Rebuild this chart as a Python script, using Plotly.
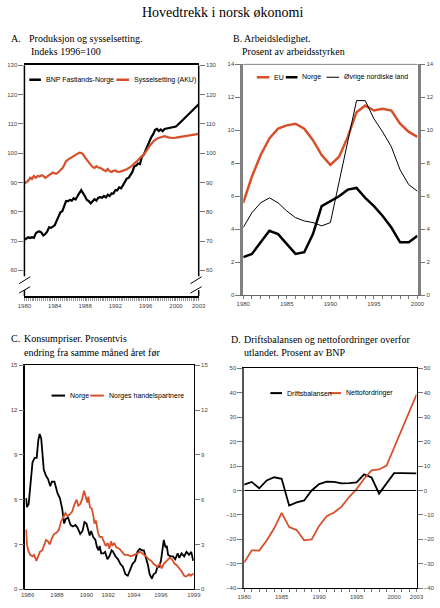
import plotly.graph_objects as go

# Panel A: Produksjon og sysselsetting (indeks 1996=100)
bnp_year = [1980.0, 1980.25, 1980.5, 1980.75, 1981.0, 1981.25, 1981.5, 1981.75, 1982.0, 1982.25,
            1982.5, 1982.75, 1983.0, 1983.25, 1983.5, 1983.75, 1984.0, 1984.25, 1984.5, 1984.75,
            1985.0, 1985.25, 1985.5, 1985.75, 1986.0, 1986.25, 1986.5, 1986.75, 1987.0, 1987.25,
            1987.5, 1987.75, 1988.0, 1988.25, 1988.5, 1988.75, 1989.0, 1989.25, 1989.5, 1989.75,
            1990.0, 1990.25, 1990.5, 1990.75, 1991.0, 1991.25, 1991.5, 1991.75, 1992.0, 1992.25,
            1992.5, 1992.75, 1993.0, 1993.25, 1993.5, 1993.75, 1994.0, 1994.25, 1994.5, 1994.75,
            1995.0, 1995.25, 1995.5, 1995.75, 1996.0, 1996.25, 1996.5, 1996.75, 1997.0, 1997.25,
            1997.5, 1997.75, 1998.0, 1998.25, 1998.5, 1998.75, 1999.0, 1999.5, 2000.0, 2001.0,
            2002.0, 2003.0]
bnp = [70.4, 70.9, 71.3, 71.0, 71.3, 71.1, 72.6, 73.2, 73.3, 72.9,
       71.9, 72.4, 73.2, 74.7, 74.5, 74.9, 75.4, 76.9, 78.5, 79.8,
       80.2, 82.0, 83.7, 83.6, 84.0, 83.8, 84.6, 84.2, 85.5, 86.4,
       87.4, 86.5, 85.2, 84.0, 83.6, 82.9, 83.8, 84.3, 83.8, 84.8,
       85.0, 84.8, 85.4, 84.9, 85.8, 85.4, 86.3, 86.2, 87.4, 87.3,
       88.3, 88.0, 89.0, 90.2, 91.3, 91.6, 92.6, 93.6, 95.5, 95.8,
       96.5, 96.3, 98.8, 99.5, 101.0, 102.6, 104.0, 105.5, 106.5, 108.0,
       108.3, 107.6, 108.1, 107.5, 108.3, 108.4, 108.7, 108.9, 109.1, 111.6,
       114.1, 116.7]

aku_year = [1980.0, 1980.5, 1980.75, 1981.0, 1981.25, 1981.5, 1981.75, 1982.0, 1982.25, 1982.5,
            1982.75, 1983.0, 1983.25, 1983.5, 1983.75, 1984.0, 1984.25, 1984.5, 1984.75, 1985.0,
            1985.25, 1985.5, 1985.75, 1986.0, 1986.25, 1986.5, 1986.75, 1987.0, 1987.25, 1987.5,
            1987.75, 1988.0, 1988.25, 1988.5, 1988.75, 1989.0, 1989.25, 1989.5, 1989.75, 1990.0,
            1990.25, 1990.5, 1990.75, 1991.0, 1991.25, 1991.5, 1991.75, 1992.0, 1992.25, 1992.5,
            1992.75, 1993.0, 1993.5, 1994.0, 1994.5, 1995.0, 1995.5, 1996.0, 1996.5, 1997.0,
            1997.5, 1998.0, 1998.5, 1999.0, 1999.5, 2000.0, 2001.0, 2002.0, 2003.0]
aku = [89.6, 90.6, 91.6, 91.2, 92.2, 91.6, 92.2, 92.0, 92.5, 92.2,
       91.6, 92.0, 92.4, 92.9, 93.4, 93.1, 93.0, 93.6, 94.3, 94.8,
       96.0, 97.3, 97.8, 98.2, 98.6, 99.2, 99.7, 100.1, 100.2, 100.1,
       99.6, 98.6, 97.6, 97.0, 96.0, 95.3, 95.0, 95.6, 95.1, 95.0,
       94.5, 94.2, 93.9, 94.6, 93.8, 93.6, 94.0, 94.1, 93.7, 93.6,
       93.8, 94.0, 94.5, 95.3, 96.4, 97.7, 99.0, 100.4, 102.4, 104.0,
       105.0, 105.5, 105.8, 105.4, 105.2, 105.3, 105.8, 106.2, 106.6]

# Panel B: Arbeidsledighet (prosent av arbeidsstyrken)
ledig_year = list(range(1980, 2001))
eu = [5.6, 7.2, 8.5, 9.5, 10.1, 10.3, 10.4, 10.1, 9.4, 8.5, 7.9,
      8.4, 9.6, 11.1, 11.5, 11.2, 11.3, 11.2, 10.4, 9.9, 9.6]
norge_ledig = [2.3, 2.5, 3.2, 3.9, 3.7, 3.1, 2.5, 2.6, 3.7, 5.4, 5.7,
               6.0, 6.4, 6.5, 5.9, 5.4, 4.8, 4.1, 3.2, 3.2, 3.6]
nordisk = [4.1, 5.0, 5.6, 5.9, 5.6, 5.1, 4.7, 4.5, 4.4, 4.2, 4.4,
           6.9, 9.4, 11.8, 11.8, 10.7, 9.9, 9.0, 7.6, 6.7, 6.3]

# Panel C: Konsumpriser, endring fra samme måned året før
kpi_no_year = [1986.05, 1986.12, 1986.25, 1986.37, 1986.55, 1986.72, 1986.87, 1987.0, 1987.1, 1987.22,
               1987.34, 1987.42, 1987.59, 1987.74, 1987.92, 1988.04, 1988.24, 1988.37, 1988.49, 1988.66,
               1988.84, 1988.99, 1989.11, 1989.29, 1989.49, 1989.66, 1989.86, 1990.03, 1990.23, 1990.41,
               1990.56, 1990.71, 1990.83, 1990.96, 1991.08, 1991.23, 1991.4, 1991.53, 1991.65, 1991.73,
               1991.85, 1992.03, 1992.15, 1992.33, 1992.48, 1992.65, 1992.77, 1992.95, 1993.15, 1993.32,
               1993.52, 1993.72, 1993.9, 1994.07, 1994.27, 1994.47, 1994.64, 1994.82, 1995.02, 1995.14,
               1995.32, 1995.46, 1995.59, 1995.76, 1995.89, 1996.06, 1996.19, 1996.31, 1996.46, 1996.59,
               1996.68, 1996.81, 1996.91, 1997.01, 1997.18, 1997.38, 1997.56, 1997.75, 1997.88, 1998.05,
               1998.25, 1998.43, 1998.63, 1998.8, 1998.95]
kpi_no = [6.1, 5.5, 5.7, 7.0, 8.5, 8.8, 8.8, 10.0, 10.4, 10.1,
          9.0, 8.0, 7.6, 7.4, 6.9, 7.2, 7.2, 6.8, 6.4, 6.1,
          5.4, 4.4, 4.7, 4.8, 4.3, 4.2, 4.3, 4.1, 3.7, 3.9,
          4.5, 4.4, 3.9, 3.6, 3.9, 3.5, 3.3, 2.8, 2.6, 2.9,
          2.4, 2.4, 2.5, 2.0, 2.2, 2.6, 2.5, 2.2, 2.0, 1.7,
          1.5, 1.0, 0.9, 1.3, 1.7, 1.9, 2.5, 2.7, 2.6, 2.6,
          2.1, 1.6, 1.0, 0.7, 1.0, 1.1, 1.5, 1.5, 1.9, 2.7,
          3.3, 2.8, 2.9, 2.3, 2.2, 2.2, 2.0, 2.4, 2.1, 2.4,
          2.2, 2.5, 2.3, 2.5, 1.9]

kpi_hp_year = [1986.05, 1986.12, 1986.22, 1986.37, 1986.55, 1986.67, 1986.85, 1987.0, 1987.12, 1987.3,
               1987.47, 1987.59, 1987.74, 1987.87, 1988.04, 1988.22, 1988.42, 1988.59, 1988.74, 1988.91,
               1989.09, 1989.24, 1989.41, 1989.61, 1989.79, 1989.96, 1990.08, 1990.23, 1990.36, 1990.53,
               1990.66, 1990.78, 1990.86, 1990.98, 1991.11, 1991.23, 1991.33, 1991.45, 1991.6, 1991.73,
               1991.9, 1992.03, 1992.2, 1992.35, 1992.48, 1992.6, 1992.72, 1992.85, 1993.02, 1993.27,
               1993.47, 1993.65, 1993.9, 1994.14, 1994.39, 1994.64, 1994.89, 1995.14, 1995.32, 1995.51,
               1995.71, 1995.89, 1996.06, 1996.19, 1996.36, 1996.51, 1996.68, 1996.88, 1997.13, 1997.31,
               1997.51, 1997.68, 1997.88, 1998.05, 1998.25, 1998.38, 1998.5, 1998.63, 1998.75, 1998.88,
               1999.0]
kpi_hp = [4.0, 3.0, 2.6, 2.3, 2.2, 2.3, 1.9, 2.2, 2.5, 2.6,
          3.1, 3.3, 3.2, 3.0, 3.4, 3.7, 3.8, 4.0, 4.5, 4.8,
          5.1, 4.9, 5.0, 5.2, 5.7, 6.0, 5.6, 5.7, 6.0, 6.6,
          6.2, 5.8, 6.2, 5.5, 5.4, 5.0, 4.4, 4.6, 3.8, 3.5,
          3.5, 3.2, 2.9, 3.1, 2.7, 3.2, 2.9, 3.1, 2.8, 2.7,
          2.5, 2.3, 2.3, 2.2, 2.3, 2.4, 2.5, 2.3, 2.2, 2.0,
          1.9, 1.7, 1.6, 1.5, 1.7, 1.4, 1.7, 1.9, 2.1, 2.0,
          1.7, 1.6, 1.4, 1.2, 0.9, 0.85, 0.9, 1.0, 0.9, 1.0,
          1.0]
kpi_tickvals = [1986.17, 1988.44, 1990.71, 1992.39, 1994.37, 1996.46, 1999.0]
kpi_ticktext = ["1986", "1988", "1990", "1992", "1994", "1996", "1999"]

# Panel D: Driftsbalansen og nettofordringer, prosent av BNP
drift_year = list(range(1980, 2004))
driftsbalanse = [2.4, 3.5, 0.9, 4.1, 5.4, 4.8, -6.2, -4.9, -4.1, 0.0, 2.6, 3.6,
                 3.5, 2.9, 3.0, 3.3, 6.6, 5.3, -1.3, 2.8, 7.1, 7.1, 7.1, 7.0]
nettofordringer = [-29.5, -24.5, -24.6, -20.5, -15.5, -9.2, -15.0, -16.2, -20.4, -20.0, -14.5, -10.5,
                   -9.0, -6.6, -2.7, 0.6, 4.8, 8.2, 8.6, 10.2, 17.5, 24.8, 32.0, 39.3]

ORANGE = "#d8502a"
W, H = 440, 608
SANS = "Liberation Sans, Arial, sans-serif"
SERIF = "Liberation Serif, Times New Roman, serif"
TICKFONT = dict(family=SANS, size=6, color="#444")


def px(x):
    return x / W


def py(y):
    return 1 - y / H


fig = go.Figure()

# --- traces
fig.add_trace(go.Scatter(x=bnp_year, y=bnp, mode="lines", line=dict(color="black", width=2.2),
                         xaxis="x", yaxis="y"))
fig.add_trace(go.Scatter(x=aku_year, y=aku, mode="lines", line=dict(color=ORANGE, width=2.2),
                         xaxis="x", yaxis="y"))
fig.add_trace(go.Scatter(x=ledig_year, y=eu, mode="lines", line=dict(color=ORANGE, width=2.5),
                         xaxis="x2", yaxis="y2"))
fig.add_trace(go.Scatter(x=ledig_year, y=norge_ledig, mode="lines", line=dict(color="black", width=2.5),
                         xaxis="x2", yaxis="y2"))
fig.add_trace(go.Scatter(x=ledig_year, y=nordisk, mode="lines", line=dict(color="black", width=1),
                         xaxis="x2", yaxis="y2"))
fig.add_trace(go.Scatter(x=kpi_no_year, y=kpi_no, mode="lines", line=dict(color="black", width=1.8),
                         xaxis="x3", yaxis="y3"))
fig.add_trace(go.Scatter(x=kpi_hp_year, y=kpi_hp, mode="lines", line=dict(color=ORANGE, width=1.8),
                         xaxis="x3", yaxis="y3"))
fig.add_trace(go.Scatter(x=drift_year, y=driftsbalanse, mode="lines", line=dict(color="black", width=1.8),
                         xaxis="x4", yaxis="y4"))
fig.add_trace(go.Scatter(x=drift_year, y=nettofordringer, mode="lines", line=dict(color=ORANGE, width=1.8),
                         xaxis="x4", yaxis="y4"))
# invisible traces so the right-hand axes are drawn
for xa, ya in [("x", "y5"), ("x2", "y6"), ("x3", "y7"), ("x4", "y8")]:
    fig.add_trace(go.Scatter(x=[None], y=[None], xaxis=xa, yaxis=ya, showlegend=False, hoverinfo="skip"))

# --- panel geometry (pixels)
A = dict(x0=18, x1=198, y0=63, y1=296)
B = dict(x0=244, x1=424, y0=62, y1=295)
C = dict(x0=19, x1=193, y0=366, y1=592)
D = dict(x0=245, x1=423, y0=369, y1=591)


def dom(p):
    return [px(p["x0"]), px(p["x1"])], [py(p["y1"]), py(p["y0"])]


ax_common = dict(showgrid=False, zeroline=False, tickfont=TICKFONT, fixedrange=True)
yl = dict(ticks="outside", ticklen=5, tickcolor="#777")

xa, ya = dom(A)
fig.update_layout(
    xaxis=dict(domain=xa, anchor="y", range=[1980, 2003], tickvals=[1980, 1984, 1988, 1992, 1996, 2000, 2003],
               ticks="outside", ticklen=3, tickcolor="#888", showline=True, linecolor="black", linewidth=1.5,
               mirror=True, minor=dict(tickmode="linear", tick0=1980, dtick=0.25, ticks="outside",
                                       ticklen=3, tickcolor="#999"), **ax_common),
    yaxis=dict(domain=ya, anchor="x", range=[51.2, 130], tickvals=list(range(60, 131, 10)),
               showline=False, **yl, **ax_common),
    yaxis5=dict(overlaying="y", anchor="x", side="right", range=[51.2, 130], tickvals=list(range(60, 131, 10)),
                showline=False, **yl, **ax_common),
)

xb, yb = dom(B)
fig.update_layout(
    xaxis2=dict(domain=xb, anchor="y2", range=[1980, 2000], tickvals=[1980, 1985, 1990, 1995, 2000],
                ticks="outside", ticklen=3, tickcolor="#777", showline=True, linecolor="#666", linewidth=1,
                minor=dict(tickmode="linear", tick0=1980, dtick=1, ticks="outside", ticklen=3, tickcolor="#777"),
                **ax_common),
    yaxis2=dict(domain=yb, anchor="x2", range=[0, 14], tickvals=list(range(0, 15, 2)),
                showline=True, linecolor="#808080", linewidth=2.5, **yl, **ax_common),
    yaxis6=dict(overlaying="y2", anchor="x2", side="right", range=[0, 14], tickvals=list(range(0, 15, 2)),
                showline=True, linecolor="#808080", linewidth=2.5, **yl, **ax_common),
)

xc, yc = dom(C)
fig.update_layout(
    xaxis3=dict(domain=xc, anchor="y3", range=[1986, 1999], tickvals=kpi_tickvals, ticktext=kpi_ticktext,
                ticks="", showline=True, linecolor="black", linewidth=1, mirror=True, **ax_common),
    yaxis3=dict(domain=yc, anchor="x3", range=[0, 15], tickvals=list(range(0, 16, 3)),
                showline=True, linecolor="black", linewidth=1.5, **yl, **ax_common),
    yaxis7=dict(overlaying="y3", anchor="x3", side="right", range=[0, 15], tickvals=list(range(0, 16, 3)),
                showline=True, linecolor="black", linewidth=1, **yl, **ax_common),
)

xd, yd = dom(D)
fig.update_layout(
    xaxis4=dict(domain=xd, anchor="y4", range=[1980, 2003], tickvals=[1980, 1985, 1990, 1995, 2000, 2003],
                ticks="outside", ticklen=3, tickcolor="#777", showline=True, linecolor="black", linewidth=1,
                mirror=True, minor=dict(tickmode="linear", tick0=1980, dtick=1, ticks="outside", ticklen=3,
                                        tickcolor="#777"), **ax_common),
    yaxis4=dict(domain=yd, anchor="x4", range=[-40, 50], tickvals=list(range(-40, 51, 10)),
                showline=True, linecolor="#555", linewidth=1.5, **yl, **ax_common),
    yaxis8=dict(overlaying="y4", anchor="x4", side="right", range=[-40, 50], tickvals=list(range(-40, 51, 10)),
                showline=True, linecolor="black", linewidth=1, **yl, **ax_common),
)

shapes = []


def seg(x0, y0, x1, y1, color="black", width=1):
    shapes.append(dict(type="line", xref="paper", yref="paper", x0=px(x0), y0=py(y0), x1=px(x1), y1=py(y1),
                       line=dict(color=color, width=width)))


# broken y-axis in panel A
for x in (A["x0"], A["x1"]):
    seg(x, A["y0"], x, 276, width=1.5)
    seg(x, 290, x, A["y1"], width=1.5)
seg(12.5, 283.5, 24, 276.5)
seg(12.5, 293, 24, 286.5)
seg(189.5, 283.5, 201, 276.5)
seg(189.5, 293, 201, 286.5)

# panel B top line
seg(B["x0"], B["y0"], B["x1"], B["y0"], color="#888", width=1)

# zero line panel D
shapes.append(dict(type="line", xref="x4", yref="y4", x0=1980, x1=2003, y0=0, y1=0,
                   line=dict(color="black", width=1)))

annotations = []


def text(x, y, s, size=7, family=SANS, color="black"):
    annotations.append(dict(x=px(x), y=py(y), xref="paper", yref="paper", text=s, showarrow=False,
                            xanchor="left", yanchor="middle", font=dict(family=family, size=size, color=color)))


def legend_item(x0, x1, y, color, width, label):
    seg(x0, y, x1, y, color=color, width=width)
    text(x1 + 3, y, label)


legend_item(23, 35, 77.5, "black", 2.5, "BNP Fastlands-Norge")
legend_item(113, 126, 77.5, ORANGE, 2.5, "Sysselsetting (AKU)")
legend_item(258, 271, 75, ORANGE, 2.5, "EU")
legend_item(288, 300, 75, "black", 2.5, "Norge")
legend_item(330, 343, 75, "black", 1, "Øvrige nordiske land")
legend_item(46, 60, 396.5, "black", 2, "Norge")
legend_item(86, 100, 396.5, ORANGE, 2, "Norges handelspartnere")
legend_item(272, 284, 394, "black", 2, "Driftsbalansen")
legend_item(333, 345, 394, ORANGE, 2, "Nettofordringer")

# titles
annotations.append(dict(x=px(223), y=py(10), xref="paper", yref="paper", text="Hovedtrekk i norsk økonomi",
                        showarrow=False, xanchor="center", yanchor="middle",
                        font=dict(family=SERIF, size=14, color="black")))
text(2, 36, "A.", size=10, family=SERIF)
text(21, 36, "Produksjon og sysselsetting.", size=10, family=SERIF)
text(23, 49, "Indeks 1996=100", size=10, family=SERIF)
text(231, 36, "B. Arbeidsledighet.", size=10, family=SERIF)
text(241, 49, "Prosent av arbeidsstyrken", size=10, family=SERIF)
text(2, 339, "C.", size=10, family=SERIF)
text(16, 339, "Konsumpriser. Prosentvis", size=10, family=SERIF)
text(16, 353, "endring fra samme måned året før", size=10, family=SERIF)
text(229, 340, "D.", size=10, family=SERIF)
text(243, 340, "Driftsbalansen og nettofordringer overfor", size=10, family=SERIF)
text(243, 353, "utlandet. Prosent av BNP", size=10, family=SERIF)

fig.update_layout(
    width=W, height=H, margin=dict(l=0, r=0, t=0, b=0),
    paper_bgcolor="white", plot_bgcolor="white", showlegend=False,
    shapes=shapes, annotations=annotations,
)

fig.write_html("out.html", config={"displayModeBar": False},
               post_script="document.body.style.margin='0';")
